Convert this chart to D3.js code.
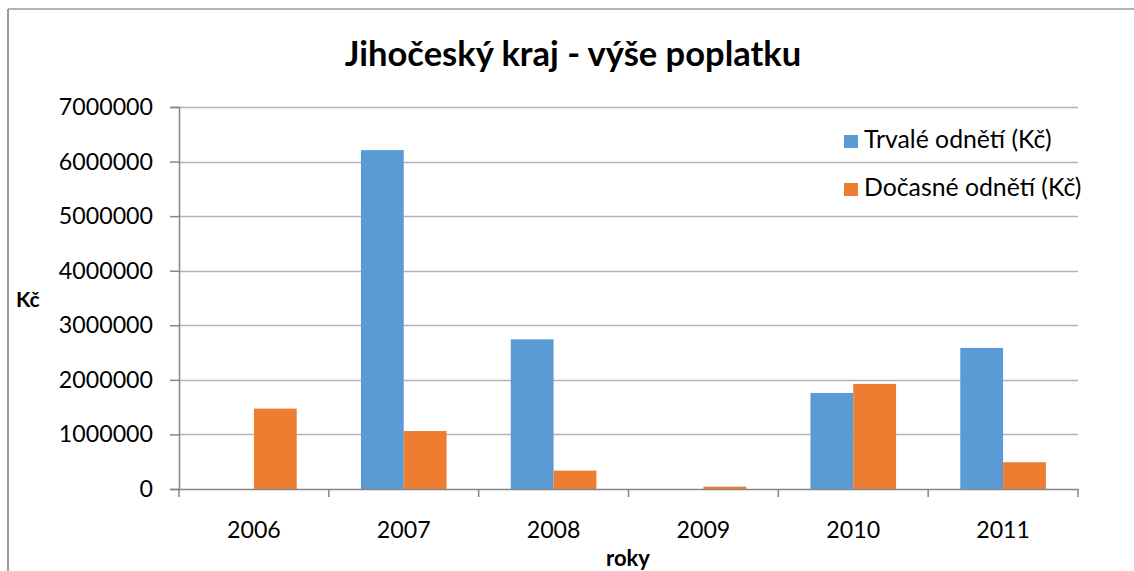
<!DOCTYPE html>
<html><head><meta charset="utf-8">
<script src="https://cdn.jsdelivr.net/npm/d3@7"></script>
<style>
html,body{margin:0;padding:0;background:#fff;}
svg text{font-family:Lato,"Open Sans",sans-serif;fill:#000;}
</style></head>
<body>
<svg id="chart" width="1134" height="571"></svg>
<script>
const categories = ["2006","2007","2008","2009","2010","2011"];
const seriesNames = ["Trvalé odnětí (Kč)","Dočasné odnětí (Kč)"];
const trvale = [0, 6210000, 2742000, 0, 1760000, 2585000];
const docasne = [1473000, 1062000, 337000, 43000, 1925000, 490000];
const yTicks = [0,1000000,2000000,3000000,4000000,5000000,6000000,7000000];
const colors = ["#5B9BD5","#ED7D31"];
const title = "Jihočeský kraj - výše poplatku";
const xTitle = "roky";
const yTitle = "Kč";

const svg = d3.select("#chart");
const pLeft = 179, pRight = 1078, pTop = 107, pBottom = 489;

// outer border (top + left visible)
svg.append("line").attr("x1",8).attr("x2",1134).attr("y1",9).attr("y2",9).attr("stroke","#9a9a9a").attr("stroke-width",1.5);
svg.append("line").attr("x1",8).attr("x2",8).attr("y1",9).attr("y2",571).attr("stroke","#9a9a9a").attr("stroke-width",2);

const x = d3.scaleBand().domain(categories).range([pLeft,pRight]).paddingInner(0).paddingOuter(0);
const y = d3.scaleLinear().domain([0,7000000]).range([pBottom,pTop]);
const barW = x.bandwidth()/3.5;

// gridlines
svg.append("g").selectAll("line").data(yTicks.filter(d=>d>0)).join("line")
  .attr("x1",pLeft).attr("x2",pRight)
  .attr("y1",d=>Math.round(y(d))+0.5).attr("y2",d=>Math.round(y(d))+0.5)
  .attr("stroke","#b3b3b3").attr("stroke-width",1.5);

// y axis
const yAxis = svg.append("g").attr("transform",`translate(${pLeft},0)`)
  .call(d3.axisLeft(y).tickValues(yTicks).tickFormat(d3.format("d")).tickSize(9).tickPadding(17));
yAxis.select(".domain").attr("stroke","#868686").attr("stroke-width",1.5);
yAxis.selectAll(".tick line").attr("stroke","#868686").attr("stroke-width",1.5);
yAxis.selectAll("text").attr("font-size",23.2).attr("font-family","Lato");

// bars
const series = [trvale, docasne];
series.forEach((vals,si)=>{
  svg.append("g").selectAll("rect").data(categories).join("rect")
    .attr("x",(c)=>x(c)+x.bandwidth()/2 - barW + si*barW)
    .attr("width",barW)
    .attr("y",(c,i)=>y(vals[i]))
    .attr("height",(c,i)=>pBottom - y(vals[i]))
    .attr("fill",colors[si]);
});

// x axis
const xAxis = svg.append("g").attr("transform",`translate(0,${pBottom})`)
  .call(d3.axisBottom(x).tickSize(0).tickPadding(33));
xAxis.select(".domain").attr("stroke","#868686").attr("stroke-width",1.5);
xAxis.selectAll("text").attr("font-size",23.2).attr("font-family","Lato");
svg.append("g").selectAll("line").data(categories.concat(["end"])).join("line")
  .attr("x1",(c,i)=> i<categories.length ? x(c) : pRight)
  .attr("x2",(c,i)=> i<categories.length ? x(c) : pRight)
  .attr("y1",pBottom).attr("y2",pBottom+8)
  .attr("stroke","#868686").attr("stroke-width",1.5);

// titles
svg.append("text").attr("x",573).attr("y",66).attr("text-anchor","middle")
  .attr("font-size",34.5).attr("font-weight","bold").text(title);
svg.append("text").attr("x",628).attr("y",566).attr("text-anchor","middle")
  .attr("font-size",22).attr("font-weight","bold").text(xTitle);
svg.append("text").attr("x",16).attr("y",307)
  .attr("font-size",21).attr("font-weight","bold").text(yTitle);

// legend
seriesNames.forEach((n,i)=>{
  const ly = 148 + i*48;
  svg.append("rect").attr("x",844).attr("y",ly-13).attr("width",14).attr("height",13).attr("fill",colors[i]);
  svg.append("text").attr("x",864).attr("y",ly).attr("font-size",24.8).text(n);
});
</script>
</body></html>
